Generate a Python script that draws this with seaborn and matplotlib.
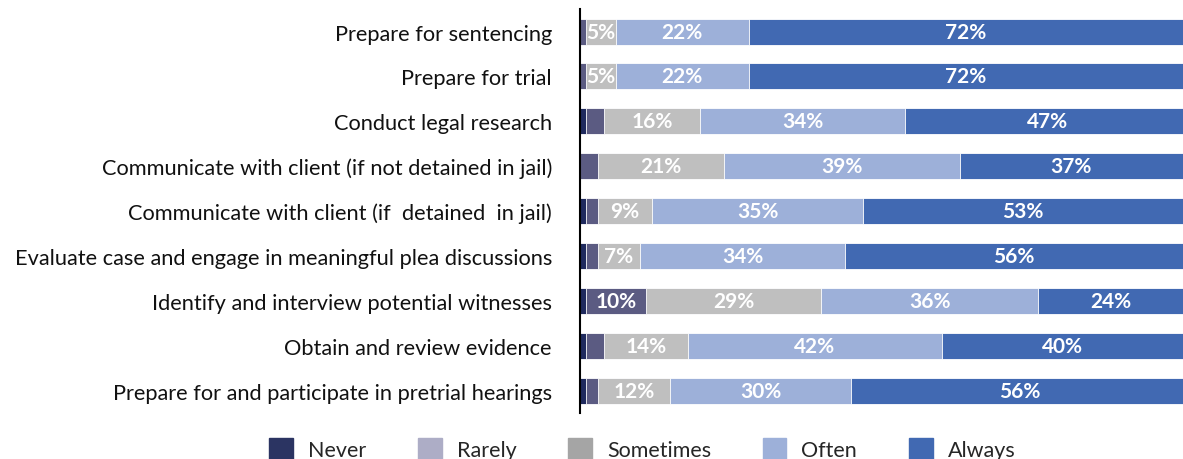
import matplotlib
matplotlib.use("Agg")
import matplotlib.pyplot as plt
import matplotlib.patches as mpatches
import seaborn as sns
import pandas as pd
import numpy as np

sns.set_theme(style="white")
plt.rcParams["font.family"] = ["Lato", "DejaVu Sans"]

# задачи (сверху вниз)
задачи = [
    "Prepare for sentencing",
    "Prepare for trial",
    "Conduct legal research",
    "Communicate with client (if not detained in jail)",
    "Communicate with client (if  detained  in jail)",
    "Evaluate case and engage in meaningful plea discussions",
    "Identify and interview potential witnesses",
    "Obtain and review evidence",
    "Prepare for and participate in pretrial hearings",
]

# доли ответов, %
never     = [0, 0, 1, 0, 1, 1, 1, 1, 1]
rarely    = [1, 1, 3, 3, 2, 2, 10, 3, 2]
sometimes = [5, 5, 16, 21, 9, 7, 29, 14, 12]
often     = [22, 22, 34, 39, 35, 34, 36, 42, 30]
always    = [72, 72, 47, 37, 53, 56, 24, 40, 56]

категории = ["Never", "Rarely", "Sometimes", "Often", "Always"]
цвета_баров = ["#1F2A5E", "#5B5B82", "#BFBFBF", "#9DB0D9", "#4169B2"]
цвета_легенды = ["#2B3462", "#ADADC6", "#A5A5A5", "#9DB0D9", "#4169B2"]

df = pd.DataFrame({"задача": задачи, "Never": never, "Rarely": rarely,
                   "Sometimes": sometimes, "Often": often, "Always": always})
накоп = df[категории].cumsum(axis=1)

fig, ax = plt.subplots(figsize=(11.83, 4.6), dpi=100)
fig.subplots_adjust(left=0.49, right=1.0, top=0.978, bottom=0.1)

# рисуем накопленные суммы от большей к меньшей
for кат, цвет in reversed(list(zip(категории, цвета_баров))):
    sns.barplot(x=накоп[кат], y=df["задача"], orient="h", color=цвет,
                saturation=1, width=0.58, edgecolor="white", linewidth=0.6,
                ax=ax)

# подписи внутри сегментов
for i in range(len(задачи)):
    for кат in категории:
        v = df.loc[i, кат]
        if v >= 5:
            центр = накоп.loc[i, кат] - v / 2
            ax.text(центр, i, f"{v}%", ha="center", va="center",
                    color="white", fontsize=15, fontweight="bold")

ax.set_xlim(0, 100)
ax.set_ylim(8.5, -0.5)
ax.set_xlabel("")
ax.set_ylabel("")
ax.set_xticks([])
ax.tick_params(axis="y", length=0, pad=20, labelsize=15.7, labelcolor="#111111")
for s in ["top", "right", "bottom"]:
    ax.spines[s].set_visible(False)
ax.spines["left"].set_color("black")
ax.spines["left"].set_linewidth(1.5)

ручки = [mpatches.Patch(color=c, label=k) for k, c in zip(категории, цвета_легенды)]
fig.legend(handles=ручки, loc="lower center", bbox_to_anchor=(0.543, -0.045),
           ncol=5, frameon=False, fontsize=15.5, handlelength=1.1,
           handleheight=1.2, handletextpad=0.7, columnspacing=2.4)

plt.savefig("out.png", dpi=100)
